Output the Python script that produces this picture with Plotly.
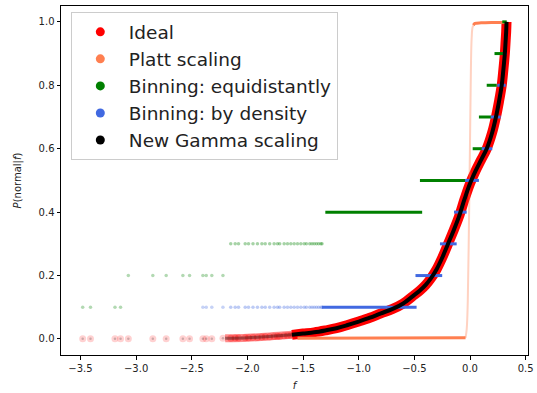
import plotly.graph_objects as go

# ---------------- data ----------------
# sparse tail of scores f (few samples)
F_TAIL = [-3.48, -3.41, -3.19, -3.14, -3.07, -2.85, -2.73, -2.58, -2.52,
          -2.40, -2.37, -2.32, -2.22]
IDEAL_TAIL_P = [0.001, 0.001, 0.001, 0.001, 0.001, 0.001, 0.001, 0.001, 0.001,
                0.001, 0.001, 0.001, 0.002]
EQ_TAIL_P = [0.1, 0.1, 0.1, 0.1, 0.2, 0.2, 0.2, 0.2, 0.2, 0.2, 0.2, 0.2, 0.2]
F_DENS_TAIL = [-2.40, -2.37, -2.32, -2.22]
DENS_TAIL_P = [0.1, 0.1, 0.1, 0.1]

# semi-dense region of scores
F_MID = [-2.15, -2.11, -2.08, -2.02, -1.99, -1.95, -1.91, -1.87, -1.84, -1.80,
         -1.76, -1.73, -1.71, -1.67, -1.64, -1.61, -1.58, -1.55, -1.52, -1.49,
         -1.47, -1.44, -1.42, -1.40, -1.38, -1.36, -1.34, -1.33]
IDEAL_MID_P = [0.002, 0.003, 0.003, 0.004, 0.004, 0.005, 0.005, 0.006, 0.007, 0.007,
               0.008, 0.009, 0.009, 0.010, 0.011, 0.012, 0.013, 0.014, 0.015, 0.016,
               0.017, 0.018, 0.019, 0.020, 0.021, 0.022, 0.023, 0.023]
EQ_MID_P = [0.3, 0.3, 0.3, 0.3, 0.3, 0.3, 0.3, 0.3, 0.3, 0.3,
            0.3, 0.3, 0.3, 0.3, 0.3, 0.3, 0.3, 0.3, 0.3, 0.3,
            0.3, 0.3, 0.3, 0.3, 0.3, 0.3, 0.3, 0.3]
DENS_MID_P = [0.1, 0.1, 0.1, 0.1, 0.1, 0.1, 0.1, 0.1, 0.1, 0.1,
              0.1, 0.1, 0.1, 0.1, 0.1, 0.1, 0.1, 0.1, 0.1, 0.1,
              0.1, 0.1, 0.1, 0.1, 0.1, 0.1, 0.1, 0.1]

# ideal / gamma calibration curve (dense part)
CURVE_LOW_F = [-2.20, -2.00, -1.80, -1.60]
CURVE_LOW_P = [0.002, 0.004, 0.008, 0.013]
CURVE_F = [-1.60, -1.50, -1.40, -1.30, -1.20, -1.10, -1.00, -0.90, -0.80, -0.70,
           -0.60, -0.50, -0.45, -0.40, -0.35, -0.30, -0.25, -0.20, -0.15, -0.10,
           -0.05, 0.00, 0.05, 0.10, 0.15, 0.20, 0.233, 0.260, 0.285, 0.300,
           0.313, 0.320, 0.325, 0.328]
CURVE_P = [0.013, 0.017, 0.021, 0.027, 0.034, 0.044, 0.055, 0.067, 0.081, 0.094,
           0.112, 0.139, 0.153, 0.170, 0.192, 0.220, 0.256, 0.298, 0.340, 0.385,
           0.440, 0.490, 0.530, 0.565, 0.600, 0.652, 0.700, 0.748, 0.800, 0.850,
           0.900, 0.940, 0.970, 1.000]

# Platt scaling
PLATT_LOW_F = [-1.55, -1.00, -0.50, -0.04]
PLATT_LOW_P = [0.002, 0.002, 0.003, 0.004]
PLATT_RISE_F = [-0.04, -0.03, -0.02, -0.01, 0.00, 0.008, 0.015, 0.025, 0.045]
PLATT_RISE_P = [0.004, 0.03, 0.12, 0.35, 0.62, 0.85, 0.95, 0.985, 0.995]
PLATT_HIGH_F = [0.030, 0.045, 0.10, 0.20, 0.32]
PLATT_HIGH_P = [0.990, 0.995, 0.997, 0.998, 0.998]

# binning bars: level, start f, end f
EQ_LEVEL = [0.4, 0.5, 0.6, 0.7, 0.8, 0.9, 1.0]
EQ_START = [-1.30, -0.45, 0.024, 0.08, 0.15, 0.22, 0.29]
EQ_END = [-0.43, -0.02, 0.12, 0.19, 0.24, 0.305, 0.33]

DENS_LEVEL = [0.1, 0.2, 0.3, 0.4, 0.5, 0.6, 0.7, 0.8, 0.9]
DENS_START = [-1.33, -0.49, -0.27, -0.144, -0.045, 0.105, 0.186, 0.245, 0.30]
DENS_END = [-0.48, -0.25, -0.12, -0.03, 0.08, 0.20, 0.275, 0.32, 0.33]

X_TICKS = [-3.5, -3.0, -2.5, -2.0, -1.5, -1.0, -0.5, 0.0, 0.5]
X_LABELS = ["\u22123.5", "\u22123.0", "\u22122.5", "\u22122.0", "\u22121.5",
            "\u22121.0", "\u22120.5", "0.0", "0.5"]
Y_TICKS = [0.0, 0.2, 0.4, 0.6, 0.8, 1.0]

RED = "red"
CORAL = "#FF7F50"
GREEN = "green"
BLUE = "royalblue"
BLACK = "black"


def segments(levels, starts, ends):
    xs, ys = [], []
    for lv, s, e in zip(levels, starts, ends):
        xs += [s, e, None]
        ys += [lv, lv, None]
    return xs, ys


fig = go.Figure()


def add(x, y, **kw):
    fig.add_trace(go.Scatter(x=x, y=y, showlegend=False, hoverinfo="skip", **kw))


# Ideal
add(F_TAIL, IDEAL_TAIL_P, mode="markers",
    marker=dict(color=RED, size=7, opacity=0.18, line=dict(width=0)))
add(F_MID, IDEAL_MID_P, mode="markers",
    marker=dict(color=RED, size=7, opacity=0.3, line=dict(width=0)))
add(CURVE_LOW_F, CURVE_LOW_P, mode="lines", line=dict(color=RED, width=8, shape="spline"),
    opacity=0.45)
add(CURVE_F, CURVE_P, mode="lines", line=dict(color=RED, width=10, shape="spline"))

# Platt
add(PLATT_LOW_F, PLATT_LOW_P, mode="lines", line=dict(color=CORAL, width=3))
add(PLATT_RISE_F, PLATT_RISE_P, mode="lines", line=dict(color=CORAL, width=2, shape="spline"),
    opacity=0.35)
add(PLATT_HIGH_F, PLATT_HIGH_P, mode="lines", line=dict(color=CORAL, width=3, shape="spline"))

# Binning: equidistantly
add(F_TAIL, EQ_TAIL_P, mode="markers",
    marker=dict(color=GREEN, size=3.5, opacity=0.3, line=dict(width=0)))
add(F_MID, EQ_MID_P, mode="markers",
    marker=dict(color=GREEN, size=3.5, opacity=0.35, line=dict(width=0)))
ex, ey = segments(EQ_LEVEL, EQ_START, EQ_END)
add(ex, ey, mode="lines", line=dict(color=GREEN, width=3))

# Binning: by density
add(F_DENS_TAIL, DENS_TAIL_P, mode="markers",
    marker=dict(color=BLUE, size=3.5, opacity=0.3, line=dict(width=0)))
add(F_MID, DENS_MID_P, mode="markers",
    marker=dict(color=BLUE, size=3.5, opacity=0.35, line=dict(width=0)))
bx, by = segments(DENS_LEVEL, DENS_START, DENS_END)
add(bx, by, mode="lines", line=dict(color=BLUE, width=3))

# New Gamma scaling
add(F_TAIL, IDEAL_TAIL_P, mode="markers",
    marker=dict(color=BLACK, size=2.5, opacity=0.2, line=dict(width=0)))
add(CURVE_LOW_F, CURVE_LOW_P, mode="lines", line=dict(color=BLACK, width=3, shape="spline"),
    opacity=0.35)
add(CURVE_F, CURVE_P, mode="lines", line=dict(color=BLACK, width=4, shape="spline"))

# legend entries
for name, col in [("Ideal", RED), ("Platt scaling", CORAL),
                  ("Binning: equidistantly", GREEN), ("Binning: by density", BLUE),
                  ("New Gamma scaling", BLACK)]:
    fig.add_trace(go.Scatter(x=[None], y=[None], mode="markers", name=name,
                             marker=dict(color=col, size=9)))

axis_common = dict(showline=True, linecolor="black", linewidth=1, mirror=True,
                   ticks="outside", ticklen=3.5, tickwidth=1, tickcolor="black",
                   showgrid=False, zeroline=False, automargin=False,
                   tickfont=dict(family="DejaVu Sans", size=10, color="#222"))

fig.update_layout(
    width=537, height=393,
    margin=dict(l=61, r=9, t=6, b=38),
    plot_bgcolor="white", paper_bgcolor="white",
    font=dict(family="DejaVu Sans", color="#222"),
    xaxis=dict(range=[-3.675, 0.521], tickvals=X_TICKS, ticktext=X_LABELS,
               title=dict(text="<i>f</i>", font=dict(size=10), standoff=9),
               **axis_common),
    yaxis=dict(range=[-0.0505, 1.05], tickvals=Y_TICKS, tickformat=".1f",
               title=dict(text="<i>P</i>(normal|<i>f</i>)", font=dict(size=10), standoff=15),
               **axis_common),
    legend=dict(x=0.021, y=0.982, xanchor="left", yanchor="top",
                bgcolor="rgba(255,255,255,0.8)", bordercolor="#cccccc", borderwidth=1,
                font=dict(family="DejaVu Sans", size=18.5, color="#222"),
                itemwidth=47, tracegroupgap=0),
)

fig.write_html("out.html", config={"displayModeBar": False},
               post_script="document.body.style.margin='0';")
